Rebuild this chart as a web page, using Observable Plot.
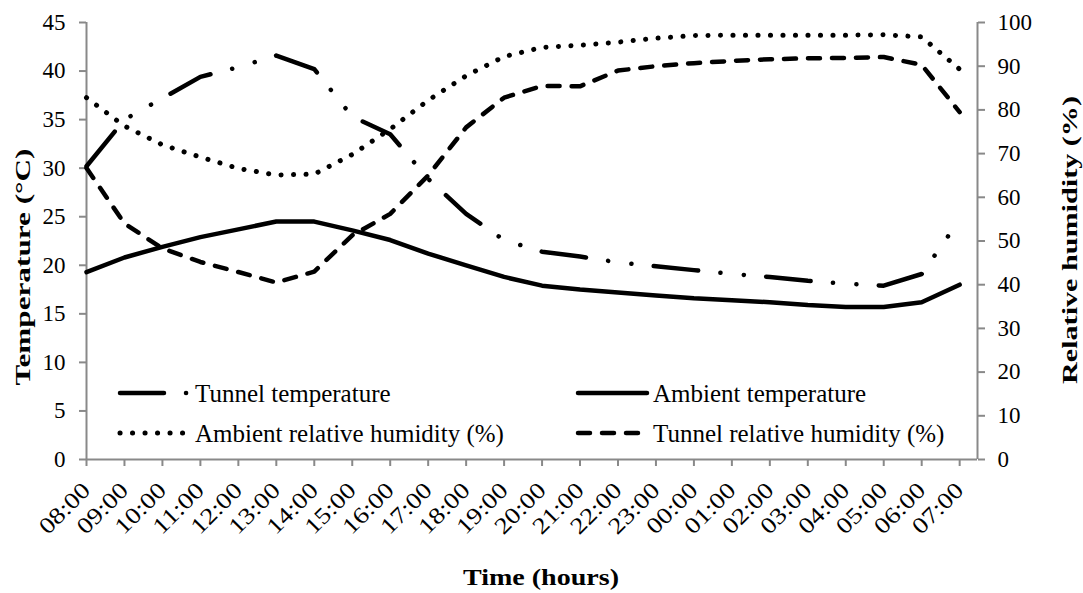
<!DOCTYPE html>
<html><head><meta charset="utf-8">
<script src="https://cdn.jsdelivr.net/npm/d3@7"></script>
<script src="https://cdn.jsdelivr.net/npm/@observablehq/plot@0.6"></script>
<style>
body{margin:0;background:#fff;}
#wrap{position:relative;width:1083px;height:593px;font-family:"Liberation Serif","Times New Roman",serif;}
#wrap svg text{font-family:"Liberation Serif","Times New Roman",serif !important;}
#wrap svg.overlay{position:absolute;left:0;top:0;pointer-events:none;}
</style></head><body><div id="wrap"></div>
<script>
// ---- data ----
const hours = ["08:00","09:00","10:00","11:00","12:00","13:00","14:00","15:00","16:00","17:00","18:00","19:00",
               "20:00","21:00","22:00","23:00","00:00","01:00","02:00","03:00","04:00","05:00","06:00","07:00"];
const tunnelTemp  = [30.2,35.0,37.2,39.4,40.4,41.6,40.2,35.3,33.5,28.9,25.3,22.6,21.4,20.9,20.3,19.9,19.5,19.1,18.8,18.4,18.1,17.9,19.1,24.7];
const ambientTemp = [19.3,20.8,21.9,22.9,23.7,24.5,24.5,23.6,22.6,21.2,20.0,18.8,17.9,17.5,17.2,16.9,16.6,16.4,16.2,15.9,15.7,15.7,16.2,18.0];
const ambientRH   = [82.8,76.3,72.0,69.2,66.6,65.1,65.3,69.8,75.6,82.2,87.8,92.2,94.3,94.8,95.5,96.4,97.0,97.1,97.1,97.1,97.1,97.2,96.7,89.3];
const tunnelRH    = [66.7,54.0,48.3,45.2,42.9,40.5,43.0,51.3,56.2,65.0,76.0,82.8,85.5,85.4,89.0,90.0,90.7,91.2,91.6,91.8,91.9,92.1,90.3,79.5];
const tempTicks = [0,5,10,15,20,25,30,35,40,45];
const rhTicks   = [0,10,20,30,40,50,60,70,80,90,100];
const seriesNames = ["Tunnel temperature","Ambient temperature","Ambient relative humidity (%)","Tunnel relative humidity (%)"];

// ---- layout ----
const W = 1083, H = 593;
const xMax = 23.47;               // axis extends a bit past the last category
const rhToT = 45 / 100;           // right axis (0-100 %) mapped onto left axis (0-45 °C)
const axisGray = "#898989";
const lw = 4.5;
const dashTTparts = [44, 22, 0.1, 23, 0.1, 22];
const dashTT = dashTTparts.join(" ");
const dashARH = "0.1 12.4";
const dashTRH = "12 12";
const serif = "'Liberation Serif','Times New Roman',serif";

const rows = hours.map((h, i) => ({i, h,
  tt: tunnelTemp[i], at: ambientTemp[i],
  arh: ambientRH[i] * rhToT, trh: tunnelRH[i] * rhToT}));

const common = {x: "i", stroke: "#000", strokeWidth: lw, strokeLinecap: "round", strokeLinejoin: "round"};

const chart = Plot.plot({
  width: W, height: H,
  marginLeft: 86, marginRight: 106, marginTop: 22, marginBottom: 134,
  style: {fontFamily: serif, fontSize: "22px", color: "#000", background: "#fff"},
  x: {type: "linear", domain: [0, xMax]},
  y: {domain: [0, 45]},
  marks: [
    Plot.ruleY([0], {stroke: axisGray, strokeWidth: 2}),
    Plot.ruleX([0], {stroke: axisGray, strokeWidth: 2}),
    Plot.ruleX([xMax], {stroke: axisGray, strokeWidth: 2}),
    Plot.axisY(tempTicks, {anchor: "left", tickSize: 7, tickPadding: 14, stroke: axisGray, strokeWidth: 2, fill: "#000", label: null, fontSize: 23}),
    Plot.axisY(rhTicks.map(v => v * rhToT), {anchor: "right", tickSize: 7, tickPadding: 13, stroke: axisGray, strokeWidth: 2, fill: "#000",
      tickFormat: d => String(Math.round(d / rhToT)), label: null, fontSize: 23}),
    Plot.axisX(d3.range(hours.length), {anchor: "bottom", tickSize: 7, tickPadding: 20, tickRotate: -45, stroke: axisGray, strokeWidth: 2, fill: "#000",
      tickFormat: i => hours[i], label: null, fontSize: 23}),
    Plot.line(rows, {...common, y: "at"}),
    Plot.line(rows, {...common, y: "trh", strokeDasharray: dashTRH}),
    Plot.line(rows, {...common, y: "arh", strokeDasharray: dashARH, strokeWidth: 5}),
    Plot.line(rows, {...common, y: "tt", strokeDasharray: dashTT})
  ]
});
const wrap = document.getElementById("wrap");
wrap.appendChild(chart);

// stretch rotated x tick labels like the original
chart.querySelectorAll('[aria-label="x-axis tick label"] text').forEach(t => {
  t.setAttribute("textLength", 62);
  t.setAttribute("lengthAdjust", "spacingAndGlyphs");
});

// fit the dash-dot-dot pattern so it starts with a dash at 08:00 and a dash ends at 06:00, as in the original
try {
  const sx = chart.scale("x"), sy = chart.scale("y");
  let L = 0;
  for (let i = 1; i <= 22; i++) {
    const dx = sx.apply(i) - sx.apply(i - 1), dy = sy.apply(tunnelTemp[i]) - sy.apply(tunnelTemp[i - 1]);
    L += Math.hypot(dx, dy);
  }
  const P = dashTTparts.reduce((a, b) => a + b, 0);
  const k = Math.round((L - dashTTparts[0]) / P);
  const f = L / (dashTTparts[0] + k * P);
  const lines = chart.querySelectorAll('g[aria-label="line"]');
  const last = lines[lines.length - 1];
  if (last && isFinite(f) && f > 0.8 && f < 1.2)
    last.querySelectorAll("path").forEach(p => p.setAttribute("stroke-dasharray", dashTTparts.map(v => (v * f).toFixed(3)).join(" ")));
} catch (e) { console.error(e); }

// ---- overlay: legend + axis titles ----
const ov = d3.select(wrap).append("svg").attr("class", "overlay").attr("width", W).attr("height", H)
  .attr("font-family", serif);
const legend = [
  {name: seriesNames[0], x: 120, y: 393, len: 70, dash: dashTT, w: lw},
  {name: seriesNames[1], x: 578, y: 393, len: 69, dash: null, w: lw},
  {name: seriesNames[2], x: 120, y: 433, len: 64, dash: dashARH, w: 5},
  {name: seriesNames[3], x: 578, y: 433, len: 62, dash: dashTRH, w: lw}
];
legend.forEach(d => {
  ov.append("line").attr("x1", d.x).attr("x2", d.x + d.len).attr("y1", d.y).attr("y2", d.y)
    .attr("stroke", "#000").attr("stroke-width", d.w).attr("stroke-linecap", "round")
    .attr("stroke-dasharray", d.dash);
  ov.append("text").attr("x", d.x < 300 ? 195 : 653).attr("y", d.y + 9).attr("font-size", 25).text(d.name);
});
ov.append("text").attr("transform", "translate(30,267) rotate(-90)").attr("text-anchor", "middle")
  .attr("font-weight", "bold").attr("font-size", 21).attr("textLength", 237).attr("lengthAdjust", "spacingAndGlyphs")
  .text("Temperature (°C)");
ov.append("text").attr("transform", "translate(1077,240) rotate(-90)").attr("text-anchor", "middle")
  .attr("font-weight", "bold").attr("font-size", 21).attr("textLength", 288).attr("lengthAdjust", "spacingAndGlyphs")
  .text("Relative humidity (%)");
ov.append("text").attr("x", 541).attr("y", 585).attr("text-anchor", "middle")
  .attr("font-weight", "bold").attr("font-size", 23).attr("textLength", 156).attr("lengthAdjust", "spacingAndGlyphs")
  .text("Time (hours)");
</script></body></html>
